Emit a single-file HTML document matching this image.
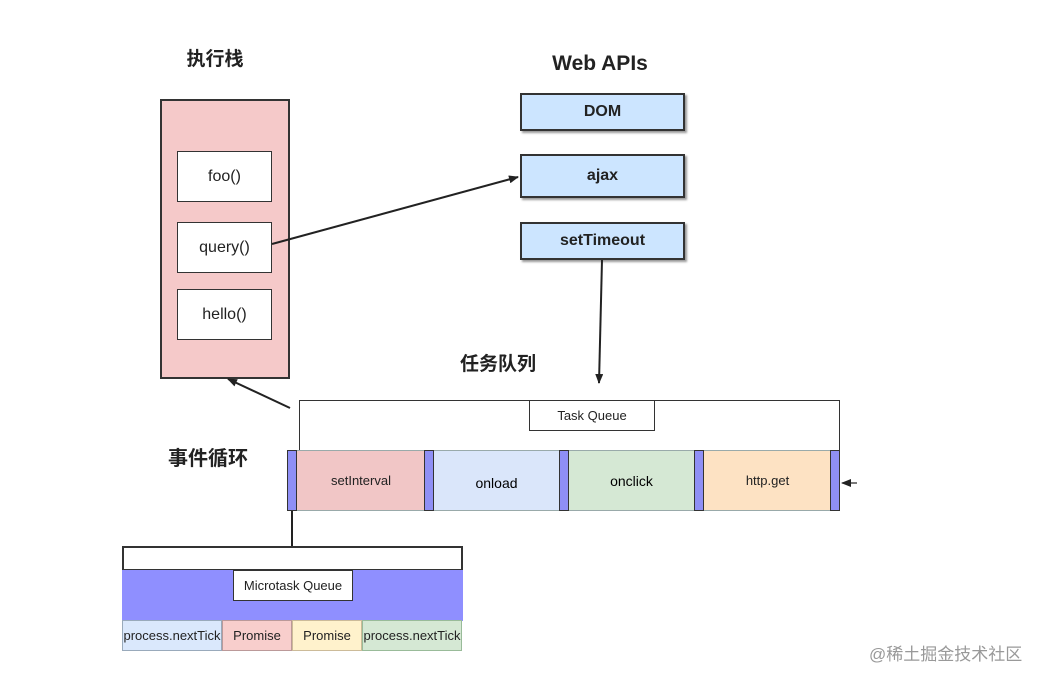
<!DOCTYPE html>
<html><head><meta charset="utf-8"><style>
body{margin:0;width:1050px;height:682px;background:#fff;position:relative;overflow:hidden;font-family:"Liberation Sans","Noto Sans CJK SC",sans-serif;}
.a{position:absolute;box-sizing:border-box;}
.c{display:flex;align-items:center;justify-content:center;}
.t{font-weight:bold;color:#222;}
.fn{background:#fff;border:1.5px solid #333;font-size:16px;color:#222;}
.api{background:#cce5ff;border:2px solid #333;font-weight:bold;font-size:16px;color:#222;box-shadow:2px 2px 2px #999;}
.bar{background:#8f8ff5;border:1px solid #333;}
.q{font-size:13px;color:#222;}
</style></head><body>
<div class="a t c" style="left:165px;top:44px;width:100px;height:26px;font-size:19px;">执行栈</div>
<div class="a" style="left:160px;top:99px;width:130px;height:280px;background:#f5c9c9;border:2px solid #333;"></div>
<div class="a fn c" style="left:177px;top:151px;width:95px;height:51px;">foo()</div>
<div class="a fn c" style="left:177px;top:222px;width:95px;height:51px;">query()</div>
<div class="a fn c" style="left:177px;top:289px;width:95px;height:51px;">hello()</div>

<div class="a t c" style="left:530px;top:50px;width:140px;height:28px;font-size:21px;">Web APIs</div>
<div class="a api c" style="left:520px;top:93px;width:165px;height:38px;">DOM</div>
<div class="a api c" style="left:520px;top:154px;width:165px;height:44px;">ajax</div>
<div class="a api c" style="left:520px;top:222px;width:165px;height:38px;">setTimeout</div>

<div class="a t c" style="left:448px;top:349px;width:100px;height:26px;font-size:19px;">任务队列</div>
<div class="a t c" style="left:158px;top:442px;width:100px;height:28px;font-size:20px;">事件循环</div>

<div class="a" style="left:299px;top:400px;width:541px;height:51px;border:1.5px solid #333;border-bottom:none;"></div>
<div class="a q c" style="left:529px;top:400px;width:126px;height:31px;background:#fff;border:1.5px solid #333;">Task Queue</div>

<div class="a q c" style="left:297px;top:450px;width:128px;height:61px;background:#f1c6c6;">setInterval</div>
<div class="a c" style="left:433px;top:450px;width:127px;height:61px;background:#dae6fa;font-size:14px;padding-top:4px;">onload</div>
<div class="a c" style="left:568px;top:450px;width:127px;height:61px;background:#d5e8d4;font-size:14px;">onclick</div>
<div class="a q c" style="left:704px;top:450px;width:127px;height:61px;background:#fde2c3;">http.get</div>
<div class="a" style="left:287px;top:450px;width:553px;height:61px;border-top:1px solid #9aa;border-bottom:1px solid #9aa;"></div>
<div class="a bar" style="left:287px;top:450px;width:10px;height:61px;"></div>
<div class="a bar" style="left:424px;top:450px;width:10px;height:61px;"></div>
<div class="a bar" style="left:559px;top:450px;width:10px;height:61px;"></div>
<div class="a bar" style="left:694px;top:450px;width:10px;height:61px;"></div>
<div class="a bar" style="left:830px;top:450px;width:10px;height:61px;"></div>

<div class="a" style="left:122px;top:546px;width:341px;height:25px;background:#fff;border:2px solid #333;"></div>
<div class="a" style="left:122px;top:570px;width:341px;height:51px;background:#8f8fff;"></div>
<div class="a q c" style="left:233px;top:570px;width:120px;height:31px;background:#fff;border:1px solid #333;">Microtask Queue</div>
<div class="a q c" style="left:122px;top:620px;width:100px;height:31px;background:#dae8fc;border:1px solid #9ab;">process.nextTick</div>
<div class="a q c" style="left:222px;top:620px;width:70px;height:31px;background:#f8cecc;border:1px solid #b99;">Promise</div>
<div class="a q c" style="left:292px;top:620px;width:70px;height:31px;background:#fff2cc;border:1px solid #cb9;">Promise</div>
<div class="a q c" style="left:362px;top:620px;width:100px;height:31px;background:#d5e8d4;border:1px solid #9b9;">process.nextTick</div>

<div class="a" style="left:869px;top:640px;width:175px;height:22px;font-size:17px;color:#999;white-space:nowrap;">@稀土掘金技术社区</div>

<svg class="a" style="left:0;top:0" width="1050" height="682">
<defs><marker id="m" markerWidth="10" markerHeight="8" refX="9" refY="4" orient="auto" markerUnits="userSpaceOnUse"><path d="M0,0 L10,4 L0,8 Z" fill="#222"/></marker></defs>
<g stroke="#222" stroke-width="2" fill="none">
<line x1="272" y1="244" x2="518" y2="177" marker-end="url(#m)"/>
<line x1="602" y1="260" x2="599" y2="383" marker-end="url(#m)"/>
<line x1="290" y1="408" x2="228" y2="379" marker-end="url(#m)"/>
<line x1="857" y1="483" x2="842" y2="483" stroke-width="1.2" marker-end="url(#m)"/>
<line x1="292" y1="511" x2="292" y2="546"/>
</g>
</svg>
</body></html>
